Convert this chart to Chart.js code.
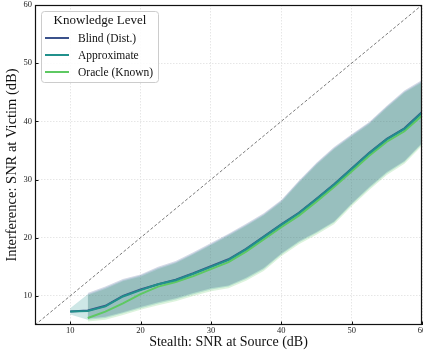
<!DOCTYPE html>
<html>
<head>
<meta charset="utf-8">
<script src="https://cdn.jsdelivr.net/npm/chart.js@4.4.1/dist/chart.umd.min.js"></script>
<style>
  body { margin: 0; background: #fff; }
  #wrap { width: 423px; height: 352px; }
</style>
</head>
<body>
<div id="wrap"><canvas id="myChart" width="423" height="352"></canvas></div>
<script>
// SNR at source (x), dB
const xVals = [10, 12.5, 15, 17.5, 20, 22.5, 25, 27.5, 30, 32.5, 35, 37.5, 40, 42.5, 45, 47.5, 50, 52.5, 55, 57.5, 60];

// mean SNR at victim per knowledge level
const blindMean  = [7.3, 7.5, 8.3, 10.0, 11.1, 12.0, 12.8, 13.9, 15.1, 16.3, 18.1, 20.2, 22.3, 24.3, 26.7, 29.2, 31.9, 34.6, 37.0, 38.8, 41.6];
const approxMean = [7.3, 7.4, 8.2, 9.9, 11.0, 12.0, 12.7, 13.8, 15.0, 16.2, 18.0, 20.1, 22.2, 24.2, 26.6, 29.1, 31.8, 34.5, 36.9, 38.7, 41.5];
const oracleMean = [null, 6.2, 7.3, 8.7, 10.3, 11.6, 12.4, 13.4, 14.6, 15.8, 17.6, 19.7, 21.8, 23.8, 26.2, 28.7, 31.4, 34.1, 36.5, 38.3, 41.0];

// shaded spread (upper / lower)
const blindHi  = [null, 10.5, 11.6, 12.9, 13.7, 15.0, 16.0, 17.5, 19.1, 20.7, 22.4, 24.2, 26.5, 29.8, 32.9, 35.6, 37.8, 39.9, 42.7, 45.3, 47.1];
const blindLo  = [null, 6.1, 6.4, 7.2, 8.1, 8.9, 9.6, 10.5, 11.3, 11.8, 13.1, 14.8, 17.3, 19.4, 21.0, 22.8, 25.9, 28.7, 31.3, 33.2, 36.3];
const approxHi = [7.9, 10.3, 11.4, 12.7, 13.5, 14.8, 15.8, 17.3, 18.9, 20.5, 22.2, 24.0, 26.3, 29.6, 32.7, 35.4, 37.6, 39.7, 42.5, 45.1, 46.9];
const approxLo = [6.8, 5.9, 6.2, 7.0, 7.9, 8.7, 9.4, 10.3, 11.1, 11.6, 12.9, 14.6, 17.1, 19.2, 20.8, 22.6, 25.7, 28.5, 31.1, 33.0, 36.1];
const oracleHi = [null, 10.1, 11.2, 12.5, 13.3, 14.6, 15.6, 17.1, 18.7, 20.3, 22.0, 23.8, 26.1, 29.4, 32.5, 35.2, 37.4, 39.5, 42.3, 44.9, 46.7];
const oracleLo = [null, 5.6, 5.9, 6.7, 7.6, 8.4, 9.1, 10.0, 10.8, 11.3, 12.6, 14.3, 16.8, 18.9, 20.5, 22.3, 25.4, 28.2, 30.8, 32.7, 35.8];

// y = x reference
const diagX = [5, 60];
const diagY = [5, 60];

const xTicks = [10, 20, 30, 40, 50, 60];
const yTicks = [10, 20, 30, 40, 50, 60];

const seriesNames = ['Blind (Dist.)', 'Approximate', 'Oracle (Known)'];
const colors = ['#3b528b', '#21918c', '#5ec962'];
const fills = ['rgba(59,82,139,0.22)', 'rgba(33,145,140,0.22)', 'rgba(94,201,98,0.22)'];

function pts(xs, ys) {
  return xs.map((x, i) => ({ x: x, y: ys[i] }));
}

function lineSet(label, ys, color) {
  return {
    label: label, data: pts(xVals, ys), borderColor: color, borderWidth: 2,
    pointRadius: 0, fill: false, tension: 0
  };
}

function bandSet(ys, bg, fillTo) {
  return {
    label: '', data: pts(xVals, ys), borderWidth: 0, borderColor: 'transparent',
    backgroundColor: bg, pointRadius: 0, fill: fillTo, tension: 0
  };
}

// frame, inward ticks and legend box
const decor = {
  id: 'decor',
  afterDraw(chart) {
    const ctx = chart.ctx, a = chart.chartArea;
    const xs = chart.scales.x, ys = chart.scales.y;
    ctx.save();
    ctx.strokeStyle = '#111';
    ctx.lineWidth = 1;
    xTicks.forEach(v => {
      const px = Math.round(xs.getPixelForValue(v)) + 0.5;
      ctx.beginPath(); ctx.moveTo(px, a.bottom); ctx.lineTo(px, a.bottom - 3.5); ctx.stroke();
    });
    yTicks.forEach(v => {
      const py = Math.round(ys.getPixelForValue(v)) + 0.5;
      ctx.beginPath(); ctx.moveTo(a.left, py); ctx.lineTo(a.left + 3.5, py); ctx.stroke();
    });
    ctx.lineWidth = 1.2;
    ctx.strokeRect(a.left + 0.5, a.top + 0.5, a.right - a.left - 1, a.bottom - a.top - 1);

    // legend
    const x0 = a.left + 6, y0 = a.top + 6, w = 117, h = 71;
    ctx.fillStyle = 'rgba(255,255,255,0.85)';
    ctx.strokeStyle = '#cccccc';
    ctx.lineWidth = 1;
    ctx.beginPath();
    ctx.roundRect(x0 + 0.5, y0 + 0.5, w, h, 3);
    ctx.fill(); ctx.stroke();
    ctx.fillStyle = '#111';
    ctx.textBaseline = 'middle';
    ctx.textAlign = 'center';
    ctx.font = '13px "Liberation Serif"';
    ctx.fillText('Knowledge Level', x0 + w / 2 + 0.5, y0 + 10);
    ctx.textAlign = 'left';
    ctx.font = '11.5px "Liberation Serif"';
    seriesNames.forEach((name, i) => {
      const yy = y0 + 27 + i * 17;
      ctx.strokeStyle = colors[i];
      ctx.lineWidth = 2;
      ctx.beginPath(); ctx.moveTo(x0 + 4, yy); ctx.lineTo(x0 + 28, yy); ctx.stroke();
      ctx.fillText(name, x0 + 37, yy + 0.5);
    });
    ctx.restore();
  }
};

document.addEventListener('DOMContentLoaded', function () {
  Chart.defaults.font.family = '"Liberation Serif"';
  Chart.defaults.color = '#222';

  const datasets = [
    lineSet('Approximate', approxMean, colors[1]),
    lineSet('Oracle (Known)', oracleMean, colors[2]),
    lineSet('Blind (Dist.)', blindMean, colors[0]),
    {
      label: 'y=x', data: pts(diagX, diagY), borderColor: '#6a6a6a', borderWidth: 0.9,
      borderDash: [3, 2], pointRadius: 0, fill: false
    },
    bandSet(blindHi, fills[0], '+1'),
    bandSet(blindLo, fills[0], false),
    bandSet(approxHi, fills[1], '+1'),
    bandSet(approxLo, fills[1], false),
    bandSet(oracleHi, fills[2], '+1'),
    bandSet(oracleLo, fills[2], false)
  ];

  new Chart(document.getElementById('myChart').getContext('2d'), {
    type: 'line',
    data: { datasets: datasets },
    plugins: [decor],
    options: {
      responsive: false,
      animation: false,
      layout: { padding: { top: 5, right: 1, left: 0, bottom: 0 } },
      plugins: {
        legend: { display: false },
        tooltip: { enabled: false },
        filler: { drawTime: 'beforeDatasetsDraw' }
      },
      scales: {
        x: {
          type: 'linear', min: 5, max: 60,
          afterBuildTicks: s => { s.ticks = xTicks.map(v => ({ value: v })); },
          afterFit: s => { s.height = 27; s.paddingLeft = 0; s.paddingRight = 0; },
          ticks: { font: { size: 8.5 }, padding: 1, maxRotation: 0, color: '#222' },
          grid: { color: '#e0e0e0', lineWidth: 0.8, drawTicks: false },
          border: { display: false, dash: [1.5, 1.5] },
          title: { display: true, text: 'Stealth: SNR at Source (dB)', font: { size: 14 }, padding: { top: 0, bottom: 1 }, color: '#111' }
        },
        y: {
          type: 'linear', min: 5, max: 60,
          afterBuildTicks: s => { s.ticks = yTicks.map(v => ({ value: v })); },
          afterFit: s => { s.width = 35; s.paddingTop = 0; s.paddingBottom = 0; },
          ticks: { font: { size: 8.5 }, padding: 3, color: '#222' },
          grid: { color: '#e0e0e0', lineWidth: 0.8, drawTicks: false },
          border: { display: false, dash: [1.5, 1.5] },
          title: { display: true, text: 'Interference: SNR at Victim (dB)', font: { size: 14.5 }, padding: { top: 3, bottom: 0 }, color: '#111' }
        }
      }
    }
  });
});
</script>
</body>
</html>
